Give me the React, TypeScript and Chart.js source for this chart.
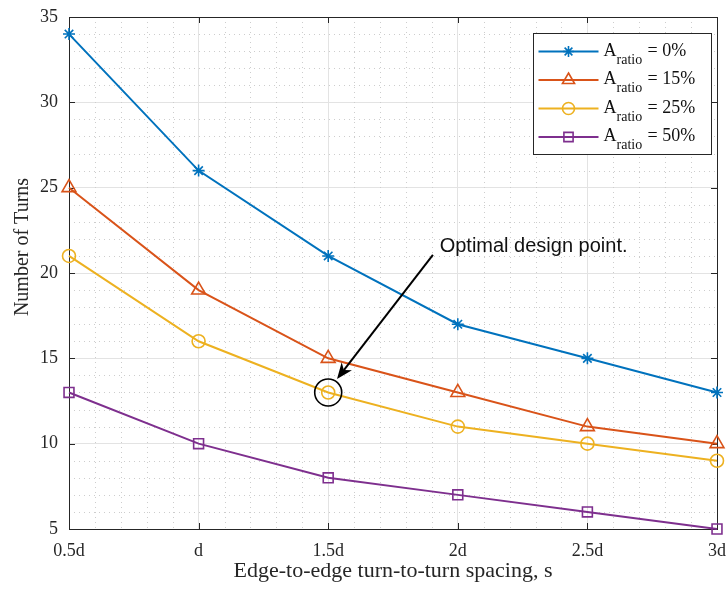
import React, { useEffect, useRef } from 'react';
import { Chart, registerables } from 'chart.js';
import { drawPoint } from 'chart.js/helpers';

Chart.register(...registerables);

// ---- data ----
const spacingLabels = ['0.5d', 'd', '1.5d', '2d', '2.5d', '3d'];
const spacingValues = [0.5, 1, 1.5, 2, 2.5, 3];
const turnsRatio0 = [34, 26, 21, 17, 15, 13];
const turnsRatio15 = [25, 19, 15, 13, 11, 10];
const turnsRatio25 = [21, 16, 13, 11, 10, 9];
const turnsRatio50 = [13, 10, 8, 7, 6, 5];
const ratioLabels = ['0%', '15%', '25%', '50%'];
const yMin = 5;
const yMax = 35;
const yStep = 5;

const xTitle = 'Edge-to-edge turn-to-turn spacing, s';
const yTitle = 'Number of Turns';
const annotationText = 'Optimal design point.';
const annotationTextAt = { x: 1.93, y: 21.25 };
const arrowFrom = { x: 1.904, y: 21.06 };
const arrowTo = { x: 1.534, y: 13.79 };
const circledPoint = { x: 1.5, y: 13 };

const COLORS = ['#0072BD', '#D95319', '#EDB120', '#7E2F8E'];
const STYLES = ['star', 'triangle', 'circle', 'rect'];
const RADII = [6, 8, 6.5, 7];
const SERIF = '"Liberation Serif", "Times New Roman", serif';
const SANS = '"Liberation Sans", Arial, sans-serif';

const decorPlugin = {
  id: 'decor',
  beforeDatasetsDraw(chart: any) {
    const { ctx, chartArea: a, scales } = chart;
    const x = scales.x;
    const y = scales.y;
    ctx.save();
    // minor grid
    ctx.strokeStyle = '#cdcdcd';
    ctx.lineWidth = 1;
    ctx.setLineDash([1, 4]);
    for (let i = 0; i <= 25; i++) {
      if (i % 5 === 0) continue;
      const px = Math.round(x.getPixelForValue(0.5 + i / 10)) + 0.5;
      ctx.beginPath();
      ctx.moveTo(px, a.top);
      ctx.lineTo(px, a.bottom);
      ctx.stroke();
    }
    for (let v = yMin; v <= yMax; v++) {
      if (v % yStep === 0) continue;
      const py = Math.round(y.getPixelForValue(v)) + 0.5;
      ctx.beginPath();
      ctx.moveTo(a.left, py);
      ctx.lineTo(a.right, py);
      ctx.stroke();
    }
    ctx.setLineDash([]);
    // box
    ctx.strokeStyle = '#262626';
    ctx.lineWidth = 1;
    ctx.strokeRect(Math.round(a.left) + 0.5, Math.round(a.top) + 0.5, Math.round(a.right - a.left), Math.round(a.bottom - a.top));
    // inward ticks
    const tl = 6;
    spacingValues.forEach((v) => {
      const px = Math.round(x.getPixelForValue(v)) + 0.5;
      ctx.beginPath();
      ctx.moveTo(px, a.bottom);
      ctx.lineTo(px, a.bottom - tl);
      ctx.moveTo(px, a.top);
      ctx.lineTo(px, a.top + tl);
      ctx.stroke();
    });
    for (let v = yMin; v <= yMax; v += yStep) {
      const py = Math.round(y.getPixelForValue(v)) + 0.5;
      ctx.beginPath();
      ctx.moveTo(a.left, py);
      ctx.lineTo(a.left + tl, py);
      ctx.moveTo(a.right, py);
      ctx.lineTo(a.right - tl, py);
      ctx.stroke();
    }
    ctx.restore();
  },
  afterDraw(chart: any) {
    const { ctx, chartArea: a, scales } = chart;
    const x = scales.x;
    const y = scales.y;
    ctx.save();
    // y title
    ctx.fillStyle = '#262626';
    ctx.font = `20px ${SERIF}`;
    ctx.textAlign = 'center';
    ctx.textBaseline = 'middle';
    ctx.translate(23, 247);
    ctx.rotate(-Math.PI / 2);
    ctx.fillText(yTitle, 0, 0);
    ctx.restore();

    // annotation
    ctx.save();
    ctx.fillStyle = '#111';
    ctx.font = `20px ${SANS}`;
    ctx.textAlign = 'left';
    ctx.textBaseline = 'alphabetic';
    ctx.fillText(annotationText, x.getPixelForValue(annotationTextAt.x), y.getPixelForValue(annotationTextAt.y));
    const x0 = x.getPixelForValue(arrowFrom.x);
    const y0 = y.getPixelForValue(arrowFrom.y);
    const x1 = x.getPixelForValue(arrowTo.x);
    const y1 = y.getPixelForValue(arrowTo.y);
    const ang = Math.atan2(y1 - y0, x1 - x0);
    const hl = 16;
    const hw = 6.5;
    ctx.strokeStyle = '#000';
    ctx.lineWidth = 2;
    ctx.beginPath();
    ctx.moveTo(x0, y0);
    ctx.lineTo(x1 - Math.cos(ang) * hl * 0.7, y1 - Math.sin(ang) * hl * 0.7);
    ctx.stroke();
    ctx.fillStyle = '#000';
    ctx.beginPath();
    const bx = x1 - Math.cos(ang) * hl;
    const by = y1 - Math.sin(ang) * hl;
    const nx = -Math.sin(ang);
    const ny = Math.cos(ang);
    ctx.moveTo(x1, y1);
    ctx.lineTo(bx + nx * hw, by + ny * hw);
    ctx.lineTo(x1 - Math.cos(ang) * hl * 0.7, y1 - Math.sin(ang) * hl * 0.7);
    ctx.lineTo(bx - nx * hw, by - ny * hw);
    ctx.closePath();
    ctx.fill();
    // circle
    ctx.lineWidth = 1.6;
    ctx.beginPath();
    ctx.arc(x.getPixelForValue(circledPoint.x), y.getPixelForValue(circledPoint.y), 13.5, 0, Math.PI * 2);
    ctx.stroke();
    ctx.restore();

    // legend
    ctx.save();
    const bw = 178;
    const bh = 121;
    const bx0 = Math.round(a.right - 6 - bw) + 0.5;
    const by0 = Math.round(a.top + 16) + 0.5;
    ctx.fillStyle = '#fff';
    ctx.fillRect(bx0, by0, bw, bh);
    ctx.strokeStyle = '#262626';
    ctx.lineWidth = 1;
    ctx.strokeRect(bx0, by0, bw, bh);
    const legendRadii = [5.5, 7, 6, 6.5];
    chart.data.datasets.forEach((ds: any, i: number) => {
      const cy = by0 + 18 + i * 28.5;
      ctx.strokeStyle = ds.borderColor;
      ctx.lineWidth = 2;
      ctx.beginPath();
      ctx.moveTo(bx0 + 5, cy);
      ctx.lineTo(bx0 + 65, cy);
      ctx.stroke();
      ctx.lineWidth = 1.6;
      ctx.fillStyle = 'rgba(0,0,0,0)';
      drawPoint(ctx, { pointStyle: ds.pointStyle, radius: legendRadii[i], borderWidth: 1.6, rotation: 0 }, bx0 + 35, cy);
      ctx.fillStyle = '#111';
      ctx.textAlign = 'left';
      ctx.textBaseline = 'alphabetic';
      ctx.font = `18px ${SERIF}`;
      ctx.fillText('A', bx0 + 70, cy + 4);
      ctx.font = `14px ${SERIF}`;
      ctx.fillText('ratio', bx0 + 83, cy + 12);
      ctx.font = `18px ${SERIF}`;
      ctx.fillText('= ' + ratioLabels[i], bx0 + 114, cy + 4);
    });
    ctx.restore();
  },
};

function makeDataset(label: string, values: number[], i: number) {
  return {
    label,
    data: values.map((v, k) => ({ x: spacingValues[k], y: v })),
    borderColor: COLORS[i],
    backgroundColor: 'rgba(0,0,0,0)',
    pointBorderColor: COLORS[i],
    pointBackgroundColor: 'rgba(0,0,0,0)',
    pointStyle: STYLES[i],
    pointRadius: RADII[i],
    pointBorderWidth: 1.6,
    borderWidth: 2,
    tension: 0,
    clip: false,
  };
}

export default function App() {
  const ref = useRef<HTMLCanvasElement>(null);
  useEffect(() => {
    document.body.style.margin = '0';
    const canvas = ref.current!;
    const chart = new Chart(canvas, {
      type: 'line',
      data: {
        datasets: [
          makeDataset('A_ratio = ' + ratioLabels[0], turnsRatio0, 0),
          makeDataset('A_ratio = ' + ratioLabels[1], turnsRatio15, 1),
          makeDataset('A_ratio = ' + ratioLabels[2], turnsRatio25, 2),
          makeDataset('A_ratio = ' + ratioLabels[3], turnsRatio50, 3),
        ],
      },
      options: {
        animation: false,
        responsive: false,
        devicePixelRatio: 1,
        layout: { padding: { top: 17, right: 10, left: 0, bottom: 0 } },
        plugins: { legend: { display: false }, tooltip: { enabled: false } },
        scales: {
          x: {
            type: 'linear',
            min: 0.5,
            max: 3,
            afterFit: (s: any) => { s.height = 60; s.paddingLeft = 0; s.paddingRight = 0; },
            ticks: {
              stepSize: 0.5,
              autoSkip: false,
              maxRotation: 0,
              padding: 11,
              color: '#262626',
              font: { family: SERIF, size: 18 },
              callback: (v: any) => {
                const idx = spacingValues.findIndex((s) => Math.abs(s - Number(v)) < 1e-6);
                return idx >= 0 ? spacingLabels[idx] : '';
              },
            },
            grid: { color: '#e3e3e3', lineWidth: 1, drawTicks: false },
            border: { display: false },
            title: {
              display: true,
              text: xTitle,
              color: '#262626',
              font: { family: SERIF, size: 22 },
              padding: { top: 0, bottom: 5 },
            },
          },
          y: {
            type: 'linear',
            min: yMin,
            max: yMax,
            afterFit: (s: any) => { s.width = 69; s.paddingTop = 0; s.paddingBottom = 0; },
            ticks: {
              stepSize: yStep,
              padding: 11,
              color: '#262626',
              font: { family: SERIF, size: 18 },
            },
            grid: { color: '#e3e3e3', lineWidth: 1, drawTicks: false },
            border: { display: false },
          },
        },
      },
      plugins: [decorPlugin],
    });
    return () => chart.destroy();
  }, []);
  return (
    <div style={{ width: 727, height: 589, background: '#fff' }}>
      <canvas ref={ref} width={727} height={589} />
    </div>
  );
}
